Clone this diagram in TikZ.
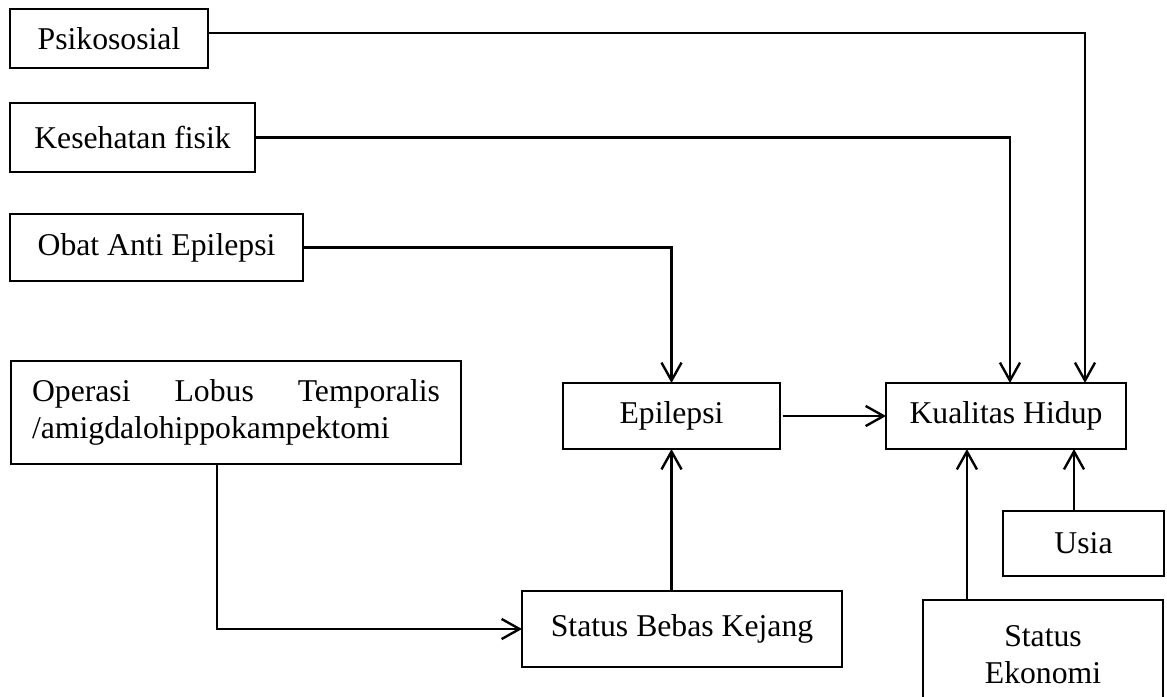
\documentclass[tikz,border=0pt]{standalone}
\usepackage{fontspec}
\setmainfont{Liberation Serif}
\usetikzlibrary{arrows.meta}

\begin{document}
\begin{tikzpicture}[x=0.3785pt,y=-0.3785pt,
	box/.style={draw,line width=0.9pt,inner sep=0,outer sep=0,font=\fontsize{12}{13.9}\selectfont},
	link/.style={line width=0.9pt,-{Straight Barb[length=6.8pt,width=7.6pt]}}]
	\useasboundingbox (0,0) rectangle (1167,696);
	\node[box,minimum width=74.9pt,minimum height=22.3pt] (psiko) at (109,38.5) {Psikososial};
	\node[box,minimum width=92.7pt,minimum height=26.1pt] (kes) at (132.5,137.5) {Kesehatan fisik};
	\node[box,minimum width=110.9pt,minimum height=25.4pt] (obat) at (156.5,247.5) {Obat Anti Epilepsi};
	\node[box,minimum width=170.3pt,minimum height=39pt,text width=154.4pt] (operasi) at (236,412.5)
		{\makebox[154.4pt]{Operasi\hfill Lobus\hfill Temporalis}\\/amigdalohippokampektomi};
	\node[box,minimum width=82.1pt,minimum height=25pt] (epi) at (671.5,416) {Epilepsi};
	\node[box,minimum width=90.8pt,minimum height=25pt] (kual) at (1006,416) {Kualitas Hidup};
	\node[box,minimum width=60.9pt,minimum height=24.6pt] (usia) at (1083.5,543.5) {Usia};
	\node[box,minimum width=121.1pt,minimum height=28.8pt] (sbk) at (682,629) {Status Bebas Kejang};
	\node[box,minimum width=90.8pt,minimum height=41.6pt,align=center] (ekon) at (1043,655) {Status\\Ekonomi};
	\draw[link] ([yshift=2pt]psiko.east) -| ([xshift=29.9pt]kual.north);
	\draw[link] (kes.east) -| ([xshift=1.5pt]kual.north);
	\draw[link] (obat.east) -| (epi.north);
	\draw[link,shorten <=1pt] (epi) -- (kual);
	\draw[link] ([xshift=-3.6pt]usia.north) -- ([xshift=-3.6pt]usia.north |- kual.south);
	\draw[link] ([xshift=-28.8pt]ekon.north) -- ([xshift=-28.8pt]ekon.north |- kual.south);
	\draw[link] (sbk.north -| epi.south) -- (epi.south);
	\draw[link] ([xshift=-7.2pt]operasi.south) |- (sbk.west);
\end{tikzpicture}
\end{document}
